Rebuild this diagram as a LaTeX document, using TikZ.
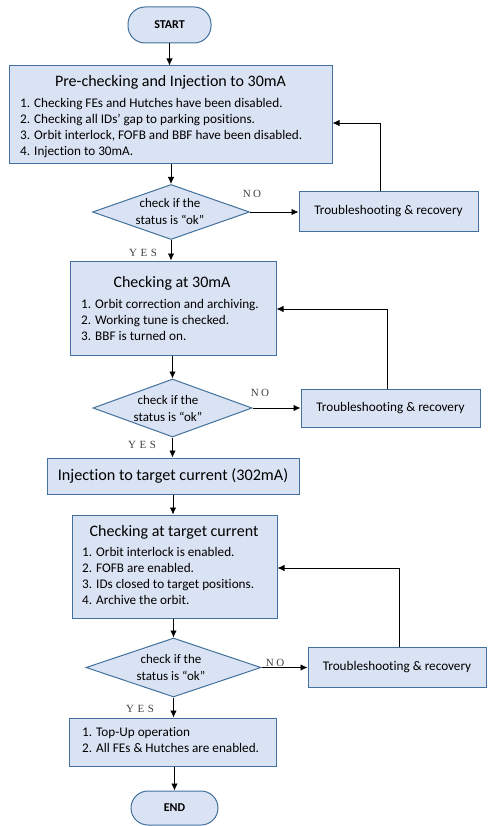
\documentclass[tikz,border=0pt]{standalone}
\usepackage{fontspec}
\setmainfont[Ligatures=NoCommon]{Carlito}
\newfontfamily\ynfont{Liberation Serif}
\usetikzlibrary{shapes.geometric,arrows.meta}
\definecolor{boxfill}{HTML}{DAE3F3}
\definecolor{boxline}{HTML}{41719C}
\definecolor{yngray}{HTML}{404040}
\begin{document}
\begin{tikzpicture}[x=1pt,y=-1pt,
  box/.style={rectangle,draw=boxline,fill=boxfill,line width=1pt,inner sep=0pt},
  term/.style={box,rounded corners=17pt,font=\fontsize{12}{14}\selectfont\bfseries},
  dec/.style={diamond,draw=boxline,fill=boxfill,line width=1pt,inner sep=0pt},
  fix/.style={box,font=\fontsize{13.2}{15}\selectfont},
  title/.style={inner sep=0pt,font=\fontsize{16}{18}\selectfont,text height=11pt,text depth=3.5pt},
  item/.style={inner sep=0pt,anchor=west,font=\fontsize{13.2}{15}\selectfont,text height=9.5pt,text depth=3pt},
  dtext/.style={inner sep=0pt,align=center,font=\fontsize{13}{17}\selectfont},
  yn/.style={inner sep=0pt,text=yngray,font=\ynfont\fontsize{11}{13}\selectfont},
  arr/.style={-{Latex[length=7pt,width=6.5pt]},line width=0.8pt,black}]
\useasboundingbox (0,0) rectangle (487,826);

% terminals
\node[term,minimum width=83pt,minimum height=36pt] (start) at (169.5,25) {START};
\node[term,minimum width=87pt,minimum height=34pt] (end) at (174.5,808) {END};

% box 1
\node[box,minimum width=323pt,minimum height=98pt] (b1) at (170.5,115) {};
\node[title] (b1t) at (170.5,83) {Pre-checking and Injection to 30mA};
\node[item] (b1i1) at (20,104) {1. Checking FEs and Hutches have been disabled.};
\node[item] (b1i2) at (20,120) {2. Checking all IDs’ gap to parking positions.};
\node[item] (b1i3) at (20,136) {3. Orbit interlock, FOFB and BBF have been disabled.};
\node[item] (b1i4) at (20,152) {4. Injection to 30mA.};

% decision 1
\node[dec,minimum width=157pt,minimum height=55pt] (d1) at (171,212) {};
\node[dtext] (d1t) at (170,212) {check if the\\status is “ok”};
\node[fix,minimum width=179pt,minimum height=39pt] (t1) at (388.5,211.5) {Troubleshooting \& recovery};
\node[yn] (no1) at (252,194) {N\hspace{2.5pt}O};
\node[yn] (yes1) at (143,253) {Y\hspace{3.5pt}E\hspace{3.5pt}S};
\coordinate (f1) at (380,123);

% box 2
\node[box,minimum width=206pt,minimum height=94pt] (b2) at (173,308) {};
\node[title] (b2t) at (172,284) {Checking at 30mA};
\node[item] (b2i1) at (81,305) {1. Orbit correction and archiving.};
\node[item] (b2i2) at (81,321) {2. Working tune is checked.};
\node[item] (b2i3) at (81,337) {3. BBF is turned on.};

% decision 2
\node[dec,minimum width=159pt,minimum height=58pt] (d2) at (172.5,408) {};
\node[dtext] (d2t) at (168,409) {check if the\\status is “ok”};
\node[fix,minimum width=179pt,minimum height=38pt] (t2) at (390.5,408) {Troubleshooting \& recovery};
\node[yn] (no2) at (260,393) {N\hspace{2.5pt}O};
\node[yn] (yes2) at (142,445) {Y\hspace{3.5pt}E\hspace{3.5pt}S};
\coordinate (f2) at (387,309);

% box 3
\node[box,minimum width=252pt,minimum height=36pt,font=\fontsize{16.2}{18}\selectfont] (b3) at (173,476) {Injection to target current (302mA)};

% box 4
\node[box,minimum width=205pt,minimum height=103pt] (b4) at (174.5,566.5) {};
\node[title] (b4t) at (174,533) {Checking at target current};
\node[item] (b4i1) at (82,553) {1. Orbit interlock is enabled.};
\node[item] (b4i2) at (82,569) {2. FOFB are enabled.};
\node[item] (b4i3) at (82,585) {3. IDs closed to target positions.};
\node[item] (b4i4) at (82,601) {4. Archive the orbit.};

% decision 3
\node[dec,minimum width=175pt,minimum height=59pt] (d3) at (173.5,667.5) {};
\node[dtext] (d3t) at (171,668) {check if the\\status is “ok”};
\node[fix,minimum width=178pt,minimum height=40pt] (t3) at (397,667) {Troubleshooting \& recovery};
\node[yn] (no3) at (275,663) {N\hspace{2.5pt}O};
\node[yn] (yes3) at (140,709) {Y\hspace{3.5pt}E\hspace{3.5pt}S};
\coordinate (f3) at (399,568);

% box 5
\node[box,minimum width=207pt,minimum height=48pt] (b5) at (172.5,742) {};
\node[item] (b5i1) at (82,733) {1. Top-Up operation};
\node[item] (b5i2) at (82,749) {2. All FEs \& Hutches are enabled.};

% connectors
\draw[arr] (start.south) -- (start.south |- b1.north);
\draw[arr] (b1.south -| d1.north) -- (d1.north);
\draw[arr] (d1.south) -- (d1.south |- b2.north);
\draw[arr] (d1.east) -- (d1.east -| t1.west);
\draw[arr] (t1.north -| f1) |- (b1.east |- f1);

\draw[arr] (b2.south -| d2.north) -- (d2.north);
\draw[arr] (d2.south) -- (d2.south |- b3.north);
\draw[arr] (d2.east) -- (d2.east -| t2.west);
\draw[arr] (t2.north -| f2) |- (b2.east |- f2);

\draw[arr] (b3.south) -- (b3.south |- b4.north);
\draw[arr] (b4.south -| d3.north) -- (d3.north);
\draw[arr] (d3.south) -- (d3.south |- b5.north);
\draw[arr] (d3.east) -- (d3.east -| t3.west);
\draw[arr] (t3.north -| f3) |- (b4.east |- f3);

\draw[arr] (b5.south -| end.north) -- (end.north);
\end{tikzpicture}
\end{document}
